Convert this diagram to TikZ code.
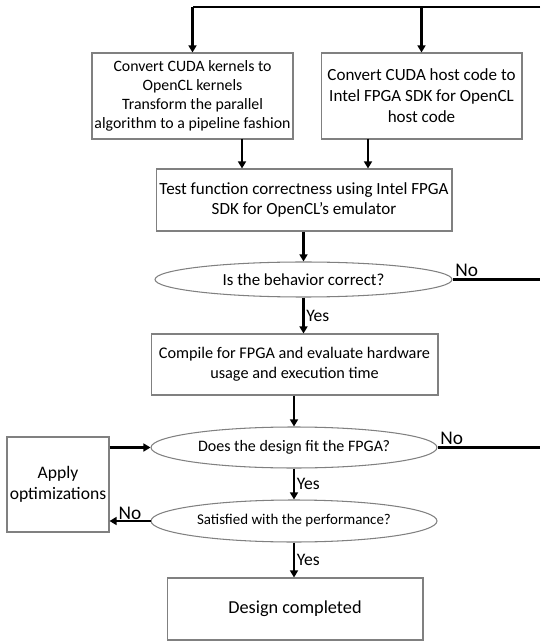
\documentclass[tikz,border=0pt]{standalone}
\usepackage{fontspec}
\setmainfont{Carlito}
\usetikzlibrary{shapes.geometric,arrows.meta}
\tikzset{every node/.style={inner sep=1pt,align=center},
  box/.style={draw=gray,line width=0.6pt,rectangle},
  query/.style={draw=gray,line width=0.6pt,ellipse,inner sep=0pt},
  flow/.style={line width=1.2pt,-{Triangle[length=4pt,width=4.5pt]}},
  link/.style={line width=1.2pt},
  lbl/.style={font=\fontsize{10}{12}\selectfont,inner sep=1pt},
  nolbl/.style={font=\fontsize{11}{13}\selectfont,inner sep=1pt}}

\begin{document}
\begin{tikzpicture}[x=0.02cm,y=-0.02cm]
      \useasboundingbox (0,0) rectangle (540,644);
      \node[box,minimum width=4.02cm,minimum height=1.72cm,font=\fontsize{9}{10.8}\selectfont] (k) at (192.5,96)
        {Convert CUDA kernels to\\OpenCL kernels\\Transform the parallel\\algorithm to a pipeline fashion};
      \node[box,minimum width=4.02cm,minimum height=1.72cm,font=\fontsize{9.7}{12}\selectfont] (h) at (421.5,96)
        {Convert CUDA host code to\\Intel FPGA SDK for OpenCL\\host code};
      \node[box,minimum width=5.92cm,minimum height=1.24cm,font=\fontsize{9.7}{11.4}\selectfont] (emu) at (304,200)
        {Test function correctness using Intel FPGA\\SDK for OpenCL’s emulator};
      \node[query,minimum width=5.94cm,minimum height=0.7cm,font=\fontsize{9.6}{11}\selectfont] (ok) at (303.5,279.5)
        {Is the behavior correct?};
      \node[box,minimum width=5.74cm,minimum height=1.22cm,font=\fontsize{9.25}{11.2}\selectfont] (comp) at (294.5,364.5)
        {Compile for FPGA and evaluate hardware\\usage and execution time};
      \node[query,minimum width=5.72cm,minimum height=0.82cm,font=\fontsize{9.1}{11}\selectfont] (fit) at (294,447.5)
        {Does the design fit the FPGA?};
      \node[box,minimum width=2.04cm,minimum height=1.9cm,font=\fontsize{10}{12.2}\selectfont] (opt) at (58,484.5)
        {Apply\\optimizations};
      \node[query,minimum width=5.72cm,minimum height=0.84cm,font=\fontsize{8.5}{10}\selectfont] (perf) at (294,521)
        {Satisfied with the performance?};
      \node[box,minimum width=5.12cm,minimum height=1.24cm,font=\fontsize{10.4}{12.5}\selectfont] (done) at (295,609)
        {Design completed};

      \coordinate (top) at (540,7);
      \coordinate (tk) at (192.5,7);
      \coordinate (th) at (421.5,7);
      \coordinate (dk) at (242,139);
      \coordinate (dh) at (368,139);
      \coordinate (r1) at (540,279.5);
      \coordinate (r2) at (540,447.5);

      \draw[link] (top) -- (tk);
\foreach \a/\b in {tk/k,th/h}
  \draw[flow] (\a) -- (\b.north);
\foreach \a in {dk,dh}
  \draw[flow] (\a) -- (\a |- emu.north);
      \draw[flow] (ok.north |- emu.south) -- (ok.north);
      \draw[flow] (ok.south) -- (ok.south |- comp.north) node[lbl,midway,right] {Yes};
      \draw[link] (ok.east) -- (r1) node[nolbl,pos=0,above right] {No};
      \draw[flow] (fit.north |- comp.south) -- (fit.north);
      \draw[link] (fit.east) -- (r2) node[nolbl,pos=0,above right] {No};
      \draw[flow] (opt.east |- fit.west) -- (fit.west);
      \draw[flow] (fit.south) -- (perf.north) node[lbl,midway,right] {Yes};
      \draw[flow] (perf.west) -- (opt.east |- perf.west) node[nolbl,midway,above,inner sep=0pt] {No};
      \draw[flow] (perf.south) -- (perf.south |- done.north) node[lbl,midway,right] {Yes};
    \end{tikzpicture}
\end{document}
